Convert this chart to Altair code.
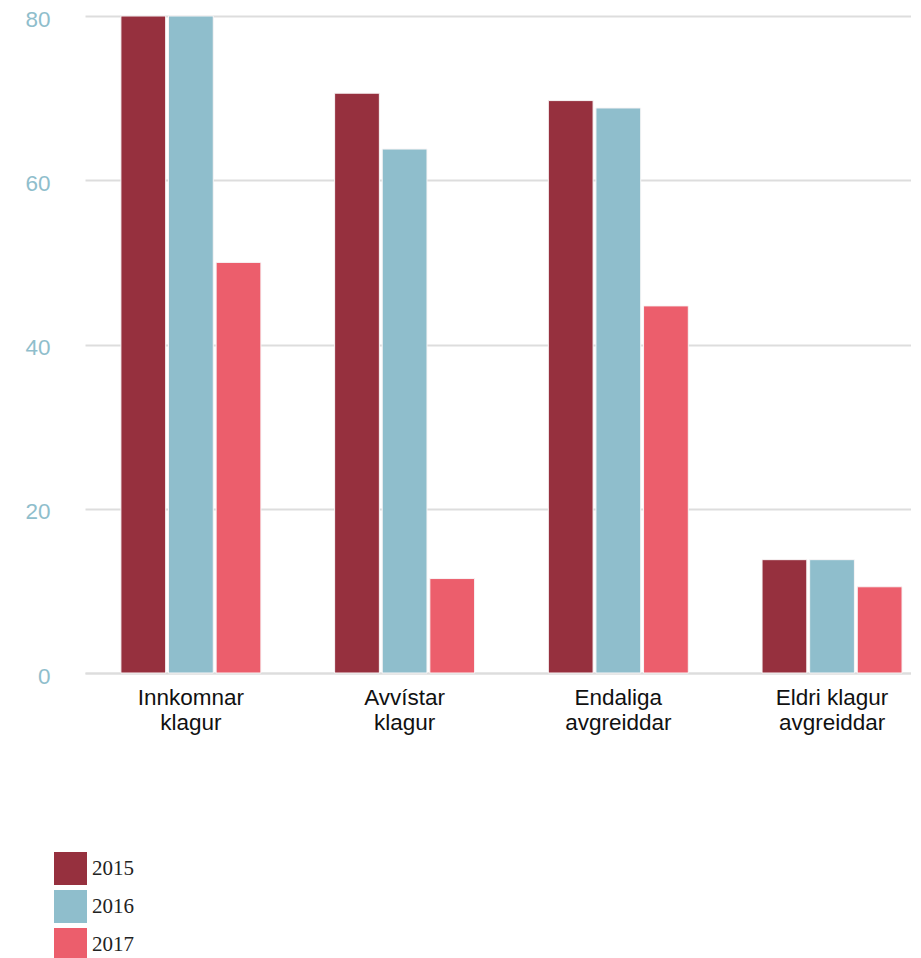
import altair as alt
import pandas as pd

categories = ["Innkomnar klagur", "Avvístar klagur", "Endaliga avgreiddar", "Eldri klagur avgreiddar"]
years = ["2015", "2016", "2017"]
values_2015 = [80, 70.6, 69.7, 13.8]
values_2016 = [80, 63.8, 68.8, 13.8]
values_2017 = [50, 11.5, 44.7, 10.5]
colors = ["#96303E", "#8FBECC", "#EC5E6C"]

rows = []
for yr, vals in zip(years, [values_2015, values_2016, values_2017]):
    for c, v in zip(categories, vals):
        rows.append({"kategori": c, "ár": yr, "virði": v})
df = pd.DataFrame(rows)

label_expr = ("datum.value == 'Innkomnar klagur' ? ['Innkomnar','klagur'] : "
              "datum.value == 'Avvístar klagur' ? ['Avvístar','klagur'] : "
              "datum.value == 'Endaliga avgreiddar' ? ['Endaliga','avgreiddar'] : "
              "['Eldri klagur','avgreiddar']")

chart = alt.Chart(df).mark_bar(stroke="#f8f5f6", strokeWidth=1).encode(
    x=alt.X("kategori:N", sort=categories, title=None,
            scale=alt.Scale(paddingInner=0.345, paddingOuter=0.105, align=0.8),
            axis=alt.Axis(labelAngle=0, labelExpr=label_expr, ticks=False,
                          domainColor="#dddddd", domainWidth=2,
                          labelFont="Liberation Sans", labelFontSize=22.5,
                          labelLineHeight=25, labelColor="#111111",
                          labelPadding=13)),
    xOffset=alt.XOffset("ár:N", sort=years, scale=alt.Scale(paddingInner=0.06)),
    y=alt.Y("virði:Q", title=None,
            scale=alt.Scale(domain=[0, 80], nice=False),
            axis=alt.Axis(values=[0, 20, 40, 60, 80], domain=False, ticks=False,
                          gridColor="#dddddd", gridWidth=2,
                          labelFont="Liberation Sans", labelFontSize=22.5,
                          labelColor="#8FBECC", labelPadding=35, labelOffset=3)),
    color=alt.Color("ár:N", sort=years,
                    scale=alt.Scale(domain=years, range=colors),
                    legend=alt.Legend(title=None, orient="none", legendX=-31, legendY=836,
                                      symbolType="square", symbolSize=1089,
                                      symbolStrokeWidth=0, rowPadding=5,
                                      labelFont="Liberation Serif", labelFontSize=21,
                                      labelColor="#222222", labelOffset=5, padding=0)),
).properties(
    width=826, height=657,
    padding={"left": 16, "top": 0, "right": 0, "bottom": 0},
).configure_view(stroke=None)

chart.save("out.html", embed_options={"renderer": "svg", "actions": False})
